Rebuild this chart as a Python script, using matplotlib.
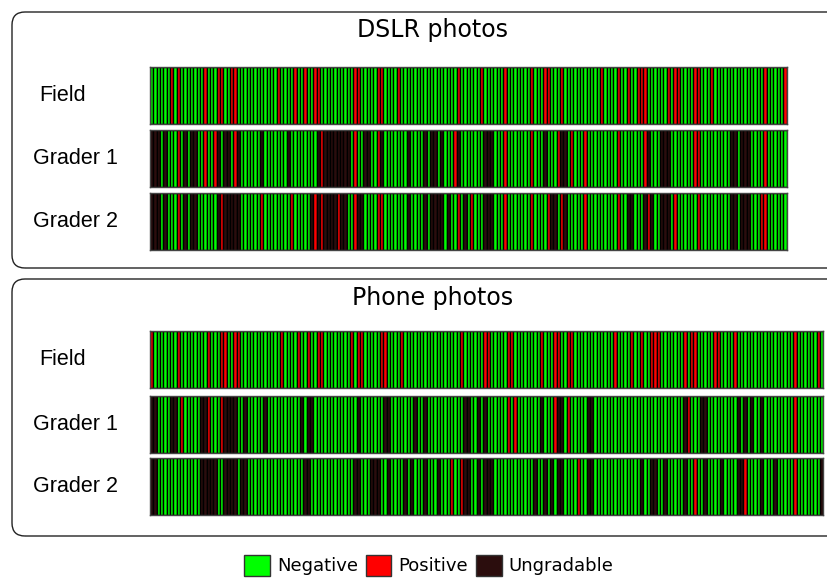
import matplotlib.pyplot as plt
import numpy as np
from matplotlib.patches import FancyBboxPatch, Patch

# cell colours
neg_color = '#00ff00'
pos_color = '#ff0000'
ung_color = '#2b0d0d'

row_names = ['Field', 'Grader 1', 'Grader 2']
panel_titles = ['DSLR photos', 'Phone photos']

n_dslr = 191
n_phone = 202

# positives (cell index) and ungradable runs (first, last) per row
dslr_field_pos = [6, 8, 16, 20, 21, 24, 25, 38, 43, 46, 49, 50, 61, 62, 68, 69, 74, 92, 99,
                  106, 114, 118, 119, 123, 135, 140, 143, 146, 147, 148, 155, 157, 158, 163,
                  164, 168, 184, 190]
dslr_field_ung = []

dslr_g1_pos = [8, 16, 19, 25, 51, 61, 68, 91, 106, 114, 122, 126, 130, 140, 148, 163, 164, 184]
dslr_g1_ung = [(0, 2), (4, 4), (10, 10), (12, 13), (20, 20), (22, 23), (26, 26), (33, 33),
               (41, 41), (50, 50), (52, 59), (64, 65), (69, 69), (77, 77), (82, 82), (84, 85),
               (87, 87), (92, 92), (100, 102), (118, 118), (123, 124), (149, 149), (153, 155),
               (174, 175), (177, 179)]

dslr_g2_pos = [8, 21, 33, 42, 49, 51, 56, 61, 68, 69, 92, 96, 106, 114, 119, 123, 130, 140,
               149, 157, 164, 183, 184]
dslr_g2_ung = [(0, 2), (4, 4), (10, 10), (12, 13), (20, 20), (22, 26), (48, 58), (62, 63),
               (77, 77), (82, 82), (84, 87), (89, 89), (94, 94), (100, 102), (120, 121),
               (124, 124), (143, 144), (148, 148), (150, 150), (153, 155), (174, 175), (177, 179)]

phone_field_pos = [0, 8, 17, 21, 22, 25, 26, 39, 44, 47, 50, 51, 60, 62, 63, 69, 70, 75, 93,
                   100, 101, 107, 108, 117, 121, 122, 125, 126, 139, 144, 147, 150, 151, 152,
                   160, 162, 163, 169, 170, 175, 193, 200]
phone_field_ung = []

phone_g1_pos = [9, 17, 21, 107, 109, 121, 125, 161, 193]
phone_g1_ung = [(0, 1), (6, 7), (15, 16), (22, 25), (28, 28), (34, 34), (45, 45), (47, 48),
                (62, 62), (70, 71), (79, 79), (82, 82), (94, 95), (98, 98), (100, 100),
                (117, 117), (122, 123), (131, 132), (160, 160), (165, 166), (176, 176),
                (178, 178), (180, 180), (183, 183)]

phone_g2_pos = [90, 93, 128, 163, 178, 193]
phone_g2_ung = [(0, 1), (15, 19), (22, 25), (27, 28), (46, 47), (61, 62), (66, 68), (71, 71),
                (76, 76), (78, 78), (82, 82), (86, 86), (94, 95), (98, 98), (100, 102),
                (115, 115), (118, 118), (120, 120), (122, 123), (131, 132), (147, 147),
                (150, 151), (154, 154), (160, 160), (166, 166), (171, 171), (176, 177),
                (183, 183), (187, 187), (201, 201)]

panels = [
    (n_dslr, [(dslr_field_pos, dslr_field_ung), (dslr_g1_pos, dslr_g1_ung), (dslr_g2_pos, dslr_g2_ung)]),
    (n_phone, [(phone_field_pos, phone_field_ung), (phone_g1_pos, phone_g1_ung), (phone_g2_pos, phone_g2_ung)]),
]

W, H = 828, 579
fig = plt.figure(figsize=(W / 100, H / 100), dpi=100)


def fig_rect(x0, y0, x1, y1):
    # pixel box (top-left origin) -> figure fraction
    return [x0 / W, 1 - y1 / H, (x1 - x0) / W, (y1 - y0) / H]


def row_colors(n, pos, ung):
    cols = [neg_color] * n
    for a, b in ung:
        for i in range(a, b + 1):
            cols[i] = ung_color
    for i in pos:
        cols[i] = pos_color
    return cols


# layout in pixels
box_tops = [12, 279]
box_bottoms = [268, 536]
title_y = [30, 298]
row_tops = [[67, 130, 193], [331, 396, 458]]
row_h = 57
row_right = [786.7, 823.3]
label_x = [63, 75.5, 75.5]

for p, (n, rows) in enumerate(panels):
    # rounded panel box, runs off the right edge (inch coords so corners stay round)
    bx = FancyBboxPatch((0.12, (H - box_bottoms[p]) / 100),
                        8.4, (box_bottoms[p] - box_tops[p]) / 100,
                        boxstyle='round,pad=0,rounding_size=0.13',
                        transform=fig.dpi_scale_trans, facecolor='none',
                        edgecolor='#222222', linewidth=1.0)
    fig.patches.append(bx)
    fig.text(433 / W, 1 - title_y[p] / H, panel_titles[p], ha='center', va='center',
             fontsize=17, family='DejaVu Sans')

    for r, (pos, ung) in enumerate(rows):
        top = row_tops[p][r]
        ax = fig.add_axes(fig_rect(150, top, row_right[p], top + row_h))
        ax.bar(np.arange(n), 1, width=1, align='edge',
               color=row_colors(n, pos, ung), edgecolor='black', linewidth=1.0)
        ax.set_xlim(0, n)
        ax.set_ylim(0, 1)
        ax.set_xticks([])
        ax.set_yticks([])
        for s in ax.spines.values():
            s.set_color('#444444')
            s.set_linewidth(1.0)
        fig.text(label_x[r] / W, 1 - (top + row_h / 2) / H, row_names[r],
                 ha='center', va='center', fontsize=15.5, family='Liberation Sans')

handles = [Patch(facecolor=neg_color, edgecolor='#333333', label='Negative'),
           Patch(facecolor=pos_color, edgecolor='#333333', label='Positive'),
           Patch(facecolor=ung_color, edgecolor='#333333', label='Ungradable')]
fig.legend(handles=handles, loc='lower center', bbox_to_anchor=(429 / W, 3 / H),
           ncol=3, frameon=False, fontsize=13, handlelength=1.4, handleheight=1.45,
           handletextpad=0.4, columnspacing=0.45, borderpad=0, borderaxespad=0)

fig.savefig('out.png', dpi=100)
